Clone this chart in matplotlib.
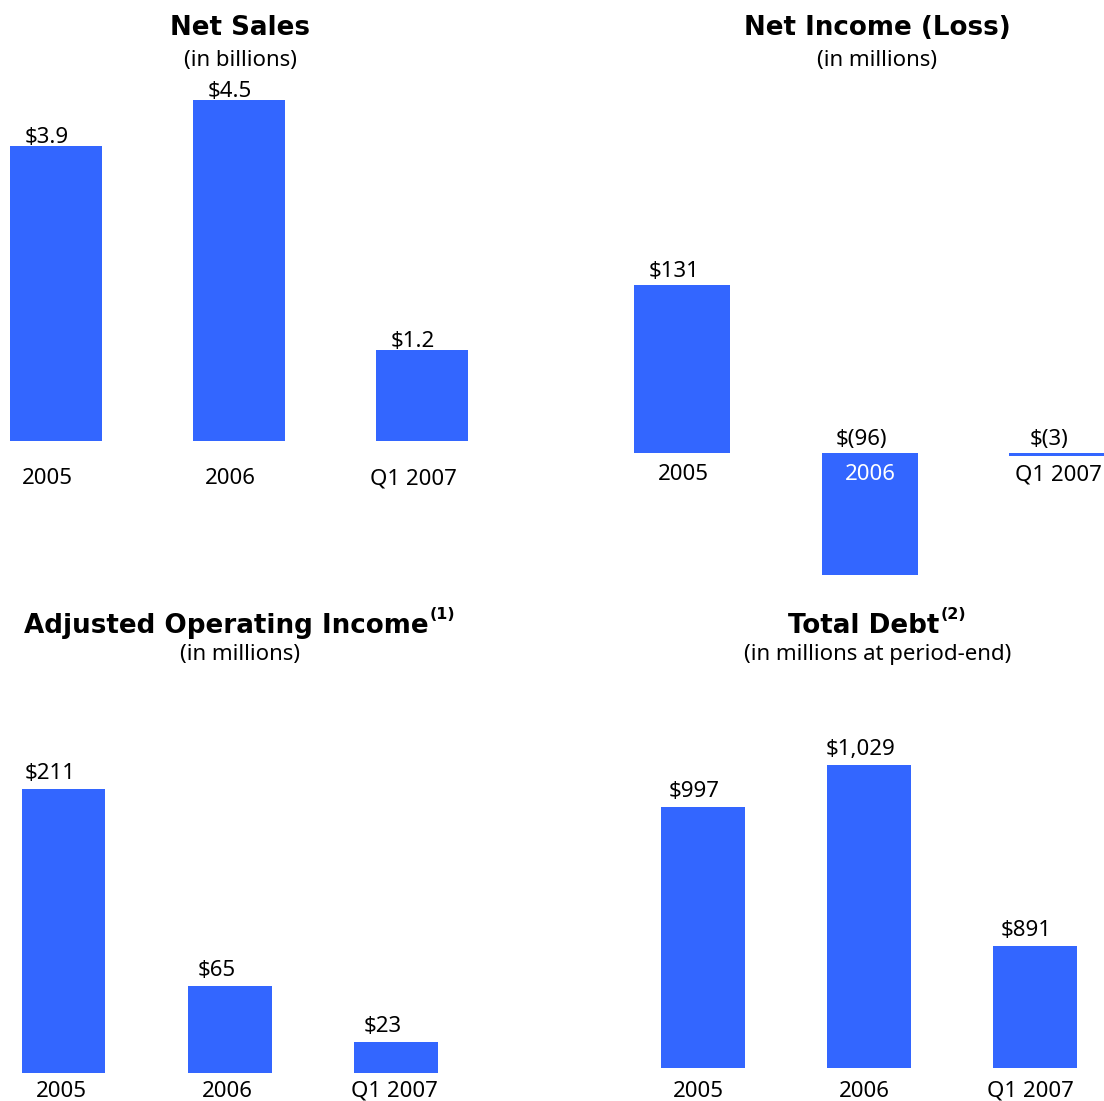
import matplotlib
matplotlib.use("Agg")
import matplotlib.pyplot as plt

# ---- data ----
categories = ["2005", "2006", "Q1 2007"]
net_sales = [3.9, 4.5, 1.2]            # $ billions
net_income = [131, -96, -3]            # $ millions
adj_operating_income = [211, 65, 23]   # $ millions
total_debt = [997, 1029, 891]          # $ millions, period-end

BAR_COLOR = "#3366FF"
W_PX, H_PX = 1104, 1101
LABEL_FONT = ["Noto Sans", "DejaVu Sans"]
TITLE_FONT = ["DejaVu Sans"]
LABEL_SIZE = 16
TITLE_SIZE = 18.8
SUP_SIZE = 11.5

plt.rcParams["font.family"] = LABEL_FONT

fig = plt.figure(figsize=(W_PX / 100, H_PX / 100), dpi=100)
fig.patch.set_facecolor("white")


def fx(px):
    return px / W_PX


def fy(py):
    return 1 - py / H_PX


def fmt_billions(v):
    return f"${v:.1f}"


def fmt_millions(v):
    return f"${v:,.0f}" if v >= 0 else f"$({-v:,.0f})"


def panel(values, fmt, box, c0, step, bar_px, base, k, v0=0.0,
          val_gap=6, val_dx=0, cat_drop=28, cat_dx=0):
    L, T, R, B = box
    ax = fig.add_axes([fx(L), fy(B), fx(R - L), (B - T) / H_PX])
    ax.set_axis_off()
    ax.set_xlim((L - c0) / step, (R - c0) / step)
    ax.set_ylim(v0 + (base - B) / k, v0 + (base - T) / k)
    xs = list(range(len(values)))
    ax.bar(xs, values, width=bar_px / step, color=BAR_COLOR, linewidth=0)
    for i, v in enumerate(values):
        top = max(v, v0)
        ax.annotate(fmt(v), xy=(i, top), xycoords="data",
                    xytext=(val_dx, val_gap), textcoords="offset pixels",
                    ha="center", va="baseline", fontsize=LABEL_SIZE,
                    family=LABEL_FONT, color="black", annotation_clip=False)
        inside = v < 0 and (-v) * k > cat_drop
        ax.annotate(categories[i], xy=(i, v0), xycoords="data",
                    xytext=(cat_dx, -cat_drop), textcoords="offset pixels",
                    ha="center", va="baseline", fontsize=LABEL_SIZE,
                    family=LABEL_FONT,
                    color="white" if inside else "black",
                    annotation_clip=False)
    return ax


def heading(cx, base_y, title, sub, sub_base_y, sup=None):
    t = fig.text(0, fy(base_y), title, fontsize=TITLE_SIZE, family=TITLE_FONT,
                 fontweight="bold", ha="left", va="baseline")
    s = None
    if sup:
        s = fig.text(0, 0, sup, fontsize=SUP_SIZE, fontweight="bold",
                     family=TITLE_FONT, ha="left", va="top")
    r = fig.canvas.get_renderer()
    wt = t.get_window_extent(r).width
    ws = s.get_window_extent(r).width + 2 if s is not None else 0
    left = cx - (wt + ws) / 2
    t.set_x(fx(left))
    if s is not None:
        s.set_position((fx(left + wt + 1), fy(base_y - 26)))
    fig.text(fx(cx), fy(sub_base_y), sub, fontsize=LABEL_SIZE,
             family=LABEL_FONT, ha="center", va="baseline")


# Net Sales
panel(net_sales, fmt_billions, (0, 80, 552, 560), c0=55.5, step=183,
      bar_px=92, base=441, k=75.7, val_gap=3, val_dx=-9,
      cat_drop=43, cat_dx=-8)
heading(240, 35, "Net Sales", "(in billions)", 66)

# Net Income (Loss)
panel(net_income, fmt_millions, (552, 80, 1104, 600), c0=682, step=187.5,
      bar_px=96, base=452.5, k=1.28, val_gap=8, val_dx=-8,
      cat_drop=28, cat_dx=1)
heading(877, 35, "Net Income (Loss)", "(in millions)", 66)

# Adjusted Operating Income
panel(adj_operating_income, fmt_millions, (0, 680, 552, 1101), c0=63.5,
      step=166.3, bar_px=84, base=1073, k=1.345, val_gap=10, val_dx=-13,
      cat_drop=24, cat_dx=-2)
heading(240, 633, "Adjusted Operating Income", "(in millions)", 660, "(1)")

# Total Debt
panel(total_debt, fmt_millions, (552, 680, 1104, 1068), c0=702.5,
      step=166, bar_px=84, base=1068, k=1.3125, v0=798.1, val_gap=10,
      val_dx=-8, cat_drop=29, cat_dx=-4)
heading(878, 633, "Total Debt", "(in millions at period-end)", 660, "(2)")

fig.savefig("out.png", dpi=100, facecolor="white")
